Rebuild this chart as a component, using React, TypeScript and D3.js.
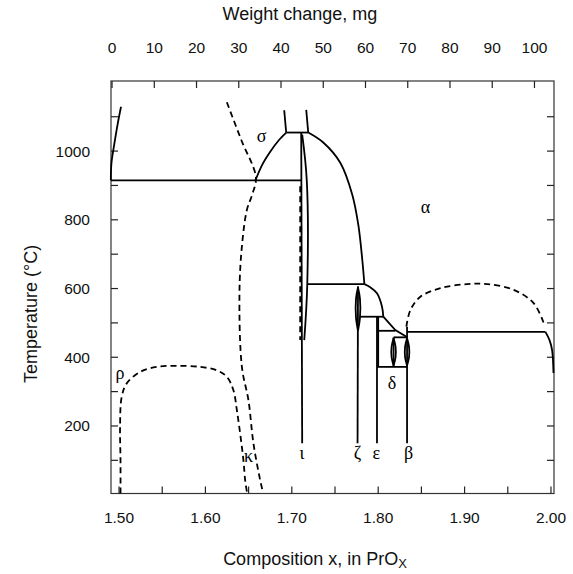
import React from 'react';
import * as d3 from 'd3';

type P = [number, number];

const W = 573;
const H = 574;

// axis ticks / labels
const compTicks = [1.5, 1.55, 1.6, 1.65, 1.7, 1.75, 1.8, 1.85, 1.9, 1.95, 2.0];
const compLabels = [1.5, 1.6, 1.7, 1.8, 1.9, 2.0];
const weightTicks = [0, 10, 20, 30, 40, 50, 60, 70, 80, 90, 100];
const tempTicks = [100, 200, 300, 400, 500, 600, 700, 800, 900, 1000, 1100];
const tempLabels = [200, 400, 600, 800, 1000];

// solid smooth boundaries (composition x, temperature °C)
const edgeCurve: P[] = [[1.4905, 915], [1.4912, 965], [1.4945, 1020], [1.4985, 1080], [1.5023, 1129]];
const sigmaLeft: P[] = [[1.6576, 913], [1.6657, 960], [1.675, 998], [1.6854, 1033], [1.6935, 1054]];
const sigmaRight: P[] = [[1.719, 1054], [1.7364, 1025], [1.7561, 966], [1.77, 873], [1.777, 785], [1.7816, 683], [1.784, 613]];
const zetaOuter: P[] = [[1.784, 613], [1.7908, 604], [1.7986, 586], [1.8044, 547], [1.8059, 518]];
const alphaRightEdge: P[] = [[1.9936, 474], [1.9983, 450], [2.0013, 421], [2.0029, 354]];
const iotaLens: P[] = [[1.712, 1048], [1.7173, 916], [1.7179, 613], [1.7144, 450]];
const zetaLensL: P[] = [[1.7766, 603], [1.7743, 570], [1.7743, 515], [1.7766, 478]];
const zetaLensR: P[] = [[1.7766, 603], [1.7789, 570], [1.7789, 515], [1.7766, 478]];
const midLensL: P[] = [[1.8178, 455], [1.8155, 430], [1.8155, 400], [1.8178, 376]];
const midLensR: P[] = [[1.8178, 455], [1.8201, 430], [1.8201, 400], [1.8178, 376]];
const betaLensL: P[] = [[1.8334, 455], [1.8311, 430], [1.8311, 400], [1.8334, 376]];
const betaLensR: P[] = [[1.8334, 455], [1.8357, 430], [1.8357, 400], [1.8334, 376]];
const stepDiag: P[] = [[1.8059, 518], [1.8198, 479], [1.8337, 458]];

// solid straight segments
const sigmaTop: P[] = [[1.6935, 1054], [1.719, 1054]];
const sigmaStubL: P[] = [[1.6935, 1054], [1.6912, 1119]];
const sigmaStubR: P[] = [[1.719, 1054], [1.7167, 1120]];
const line915: P[] = [[1.4907, 915], [1.711, 915]];
const iotaLine: P[] = [[1.7109, 1054], [1.712, 150]];
const line613: P[] = [[1.7179, 613], [1.784, 613]];
const zetaLine: P[] = [[1.7766, 607], [1.7761, 150]];
const line518: P[] = [[1.7785, 518], [1.8059, 518]];
const epsLine: P[] = [[1.7986, 518], [1.7986, 150]];
const epsThick: P[] = [[1.8, 518], [1.8, 372]];
const line477: P[] = [[1.7986, 477], [1.8198, 477]];
const line458: P[] = [[1.8178, 458], [1.8337, 458]];
const line372: P[] = [[1.7986, 372], [1.8337, 372]];
const midLine: P[] = [[1.8178, 458], [1.8178, 372]];
const betaLine: P[] = [[1.8334, 489], [1.8334, 150]];
const line474: P[] = [[1.8334, 474], [1.9936, 474]];

// dashed boundaries
const iotaDash: P[] = [[1.7097, 898], [1.7097, 450]];
const rhoDome: P[] = [[1.5017, 4], [1.5017, 100], [1.5012, 197], [1.5031, 285], [1.5089, 324], [1.5243, 357], [1.5437, 372], [1.5669, 375], [1.5939, 372], [1.6132, 362], [1.6248, 343], [1.6324, 304], [1.6364, 246], [1.6402, 178], [1.644, 100], [1.646, 42], [1.6483, 4]];
const kappaCurve: P[] = [[1.6248, 1142], [1.6414, 1033], [1.6584, 924], [1.6541, 873], [1.648, 829], [1.6422, 722], [1.6394, 586], [1.6422, 372], [1.6498, 275], [1.6556, 149], [1.6634, 42], [1.6669, 4]];
const rightDome: P[] = [[1.8326, 489], [1.8372, 537], [1.8488, 576], [1.872, 601], [1.9029, 613], [1.9261, 613], [1.9569, 596], [1.9801, 557], [1.9917, 499]];

// phase labels
const phaseNames = ['σ', 'α', 'ρ', 'κ', 'ι', 'ζ', 'ε', 'β', 'δ'];
const phaseX = [1.6651, 1.8546, 1.5012, 1.6498, 1.7117, 1.7761, 1.7978, 1.8352, 1.8159];
const phaseT = [1045, 837, 355, 112, 120, 120, 120, 120, 324];

export default function App() {
  const x = d3.scaleLinear().domain([1.4907, 2.0035]).range([111, 554]);
  const y = d3.scaleLinear().domain([3.5, 1204]).range([493.5, 81]);
  const top = d3.scaleLinear().domain([0, 100]).range([x(1.4919), x(1.9809)]);

  const smooth = d3.line<P>().x(d => x(d[0])).y(d => y(d[1])).curve(d3.curveCatmullRom.alpha(0.5));
  const straight = d3.line<P>().x(d => x(d[0])).y(d => y(d[1]));

  const [x0, x1] = x.range();
  const [yb, yt] = y.range();
  const font = 'Liberation Sans, Arial, Helvetica, sans-serif';
  const sw = 1.8;
  const tickFs = 15.5;
  const titleFs = 18;

  const smoothSolid = [edgeCurve, sigmaLeft, sigmaRight, zetaOuter, alphaRightEdge, iotaLens,
    zetaLensL, zetaLensR, midLensL, midLensR, betaLensL, betaLensR];
  const straightSolid = [stepDiag, sigmaTop, sigmaStubL, sigmaStubR, line915, iotaLine, line613, zetaLine,
    line518, epsLine, epsThick, line477, line458, line372, midLine, betaLine, line474];
  const dashedSmooth = [rhoDome, kappaCurve, rightDome];
  const dashedStraight = [iotaDash];

  return (
    <svg width={W} height={H} style={{ position: 'absolute', left: 0, top: 0, background: '#fff' }}>
      <rect x={0} y={0} width={W} height={H} fill="#fff" />
      {/* frame */}
      <rect x={x0} y={yt} width={x1 - x0} height={yb - yt} fill="none" stroke="#333" strokeWidth={1.2} />
      {/* bottom ticks */}
      {compTicks.map(t => (
        <line key={'bt' + t} x1={x(t)} x2={x(t)} y1={yb} y2={yb - 7} stroke="#222" strokeWidth={1.2} />
      ))}
      {compLabels.map(t => (
        <text key={'bl' + t} x={x(t)} y={517} textAnchor="middle" dominantBaseline="central"
          fontFamily={font} fontSize={tickFs} fill="#111">{t.toFixed(2)}</text>
      ))}
      {/* top ticks */}
      {weightTicks.map(t => (
        <line key={'tt' + t} x1={top(t)} x2={top(t)} y1={yt} y2={yt + 7} stroke="#222" strokeWidth={1.2} />
      ))}
      {weightTicks.map(t => (
        <text key={'tl' + t} x={top(t)} y={47} textAnchor="middle" dominantBaseline="central"
          fontFamily={font} fontSize={tickFs} fill="#111">{t}</text>
      ))}
      {/* left/right ticks */}
      {tempTicks.map(t => (
        <g key={'yt' + t}>
          <line x1={x0} x2={x0 + 7} y1={y(t)} y2={y(t)} stroke="#222" strokeWidth={1.2} />
          <line x1={x1} x2={x1 - 7} y1={y(t)} y2={y(t)} stroke="#222" strokeWidth={1.2} />
        </g>
      ))}
      {tempLabels.map(t => (
        <text key={'yl' + t} x={90} y={y(t)} textAnchor="end" dominantBaseline="central"
          fontFamily={font} fontSize={tickFs} fill="#111">{t}</text>
      ))}
      {/* axis titles */}
      <text x={300} y={14} textAnchor="middle" dominantBaseline="central"
        fontFamily={font} fontSize={titleFs} fill="#111">Weight change, mg</text>
      <text x={315} y={559} textAnchor="middle" dominantBaseline="central"
        fontFamily={font} fontSize={titleFs} fill="#111">Composition x, in PrO<tspan dy={4} fontSize={13}>X</tspan></text>
      <text transform={`translate(31,314) rotate(-90)`} textAnchor="middle" dominantBaseline="central"
        fontFamily={font} fontSize={titleFs} fill="#111">Temperature (°C)</text>

      {/* phase boundaries */}
      {smoothSolid.map((d, i) => (
        <path key={'ss' + i} d={smooth(d) || ''} fill="none" stroke="#000" strokeWidth={sw} />
      ))}
      {straightSolid.map((d, i) => (
        <path key={'st' + i} d={straight(d) || ''} fill="none" stroke="#000" strokeWidth={sw} />
      ))}
      {dashedSmooth.map((d, i) => (
        <path key={'ds' + i} d={smooth(d) || ''} fill="none" stroke="#000" strokeWidth={sw} strokeDasharray="6,4" />
      ))}
      {dashedStraight.map((d, i) => (
        <path key={'dt' + i} d={straight(d) || ''} fill="none" stroke="#000" strokeWidth={sw} strokeDasharray="6,4" />
      ))}

      {/* phase labels */}
      {phaseNames.map((n, i) => (
        <text key={'ph' + i} x={x(phaseX[i])} y={y(phaseT[i])} textAnchor="middle" dominantBaseline="central"
          fontFamily="Liberation Serif, DejaVu Serif, serif" fontSize={18} fill="#000">{n}</text>
      ))}
    </svg>
  );
}
